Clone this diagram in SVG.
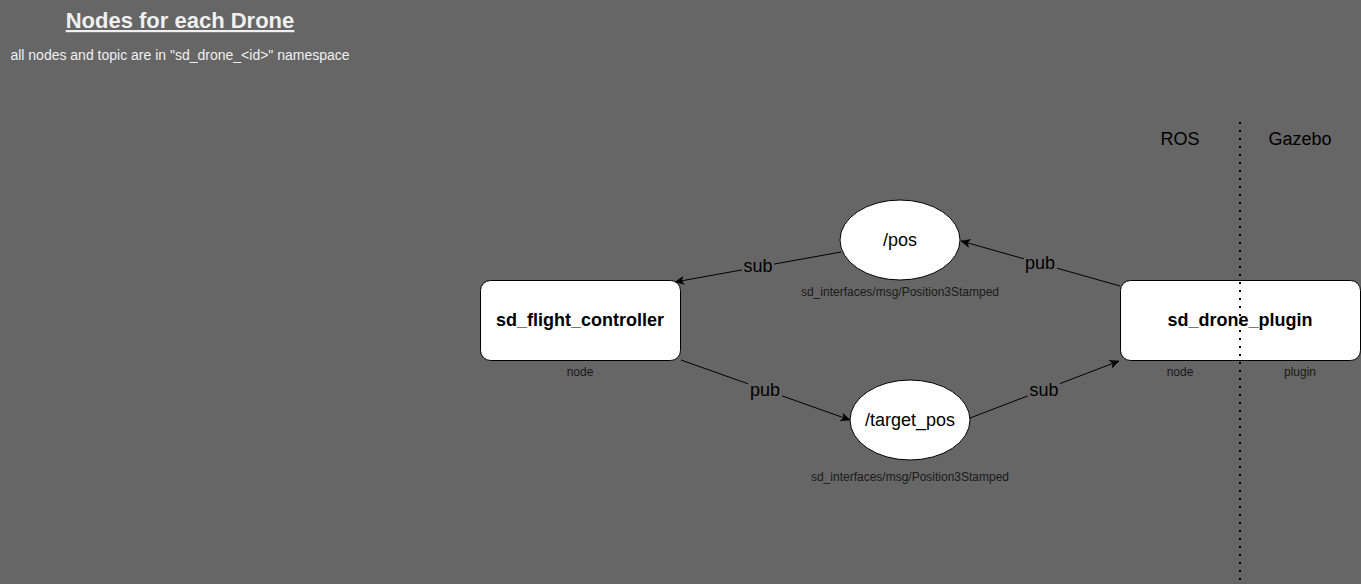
<svg xmlns="http://www.w3.org/2000/svg" width="1361" height="584" viewBox="0 0 1361 584">
<style>
text{font-family:"Liberation Sans",Arial,sans-serif;text-anchor:middle;}
.node{fill:#fff;stroke:#000;stroke-width:1;}
.nt{font-size:18px;font-weight:bold;fill:#000;}
.tt{font-size:18px;fill:#000;}
.small{font-size:12px;fill:#1a1a1a;}
.edge{stroke:#000;stroke-width:1;fill:none;marker-end:url(#arr);}
.el{font-size:18px;fill:#000;}
.elbg{fill:#666;}
</style>
<defs>
<marker id="arr" viewBox="0 0 10 10" refX="9" refY="5" markerWidth="10" markerHeight="10" markerUnits="userSpaceOnUse" orient="auto">
<path d="M0,1 L9,5 L0,9 L2.5,5 Z" fill="#000" stroke="#000" stroke-width="0.5"/>
</marker>
</defs>
<rect width="1361" height="584" fill="#666666"/>
<g id="title">
<text x="180" y="28" style="font-size:22px;font-weight:bold;fill:#f0f0f0;text-decoration:underline;">Nodes for each Drone</text>
<text x="180" y="60" style="font-size:14px;fill:#f0f0f0;">all nodes and topic are in "sd_drone_&lt;id&gt;" namespace</text>
</g>
<g id="connectors">
<path class="edge" d="M1120,286 L961,241"/>
<rect class="elbg" x="1024" y="253" width="33" height="20"/>
<text class="el" x="1040" y="269">pub</text>
<path class="edge" d="M841,252 L675,282"/>
<rect class="elbg" x="742" y="256" width="32" height="20"/>
<text class="el" x="758" y="272">sub</text>
<path class="edge" d="M681,360 L850,420"/>
<rect class="elbg" x="748" y="380" width="34" height="20"/>
<text class="el" x="765" y="396">pub</text>
<path class="edge" d="M970,418 L1119,361"/>
<rect class="elbg" x="1028" y="380" width="32" height="20"/>
<text class="el" x="1044" y="396">sub</text>
</g>
<g id="sd_flight_controller">
<rect class="node" x="480.5" y="280.5" width="200" height="80" rx="10"/>
<text class="nt" x="580" y="326">sd_flight_controller</text>
<text class="small" x="580" y="376">node</text>
</g>
<g id="pos">
<ellipse class="node" cx="900" cy="240" rx="60" ry="40"/>
<text class="tt" x="900" y="246">/pos</text>
<text class="small" x="900" y="296">sd_interfaces/msg/Position3Stamped</text>
</g>
<g id="target_pos">
<ellipse class="node" cx="910" cy="420" rx="60" ry="40"/>
<text class="tt" x="910" y="426">/target_pos</text>
<text class="small" x="910" y="481">sd_interfaces/msg/Position3Stamped</text>
</g>
<g id="sd_drone_plugin">
<rect class="node" x="1120.5" y="280.5" width="240" height="80" rx="10"/>
<text class="nt" x="1240" y="326">sd_drone_plugin</text>
<text class="small" x="1180" y="376">node</text>
<text class="small" x="1300" y="376">plugin</text>
</g>
<g id="divider">
<text class="tt" x="1180" y="145">ROS</text>
<text class="tt" x="1300" y="145">Gazebo</text>
<line x1="1240" y1="122" x2="1240" y2="584" stroke="#000" stroke-width="2" stroke-dasharray="2 6"/>
</g>
</svg>
